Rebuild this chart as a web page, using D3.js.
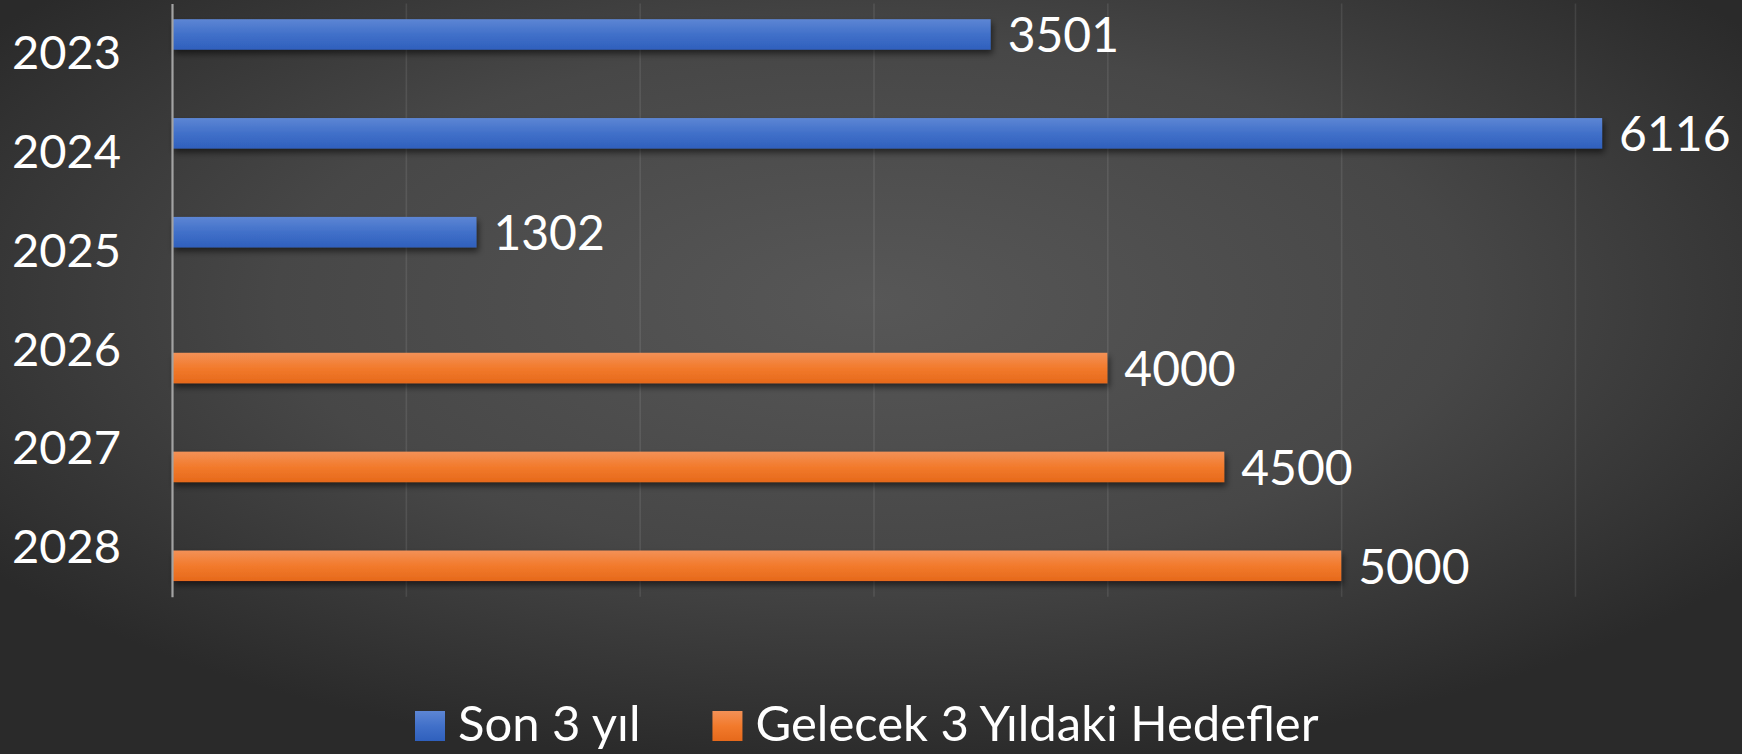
<!DOCTYPE html>
<html>
<head>
<meta charset="utf-8">
<script src="https://cdn.jsdelivr.net/npm/d3@7/dist/d3.min.js"></script>
<style>
  html, body { margin: 0; padding: 0; background: #333; }
  svg { display: block; }
  text { font-family: Lato, "Open Sans", sans-serif; fill: #ffffff; }
</style>
</head>
<body>
<svg id="chart" width="1742" height="754"></svg>
<script>
// ---- data ----
const categories = ["2023", "2024", "2025", "2026", "2027", "2028"];
const seriesNames = ["Son 3 yıl", "Gelecek 3 Yıldaki Hedefler"];
const sonUcYil = [3501, 6116, 1302, null, null, null];
const hedefler = [null, null, null, 4000, 4500, 5000];
const xTicks = [0, 1000, 2000, 3000, 4000, 5000, 6000];

// ---- layout ----
const W = 1742, H = 754;
const plot = { left: 172, right: 1575, top: 3.5, bottom: 596.7 };
const fontSize = 48;
const axisFontSize = 47;
const legendFontSize = 49;

const svg = d3.select("#chart");
const defs = svg.append("defs");

// background radial gradient
const bg = defs.append("radialGradient").attr("id", "bg")
  .attr("cx", "50%").attr("cy", "40%").attr("r", "62%")
  .attr("gradientUnits", "objectBoundingBox");
bg.append("stop").attr("offset", "0%").attr("stop-color", "#575757");
bg.append("stop").attr("offset", "55%").attr("stop-color", "#474747");
bg.append("stop").attr("offset", "100%").attr("stop-color", "#2a2a2a");
svg.append("rect").attr("width", W).attr("height", H).attr("fill", "url(#bg)");

// bar gradients
function barGrad(id, top, mid, bottom) {
  const g = defs.append("linearGradient").attr("id", id)
    .attr("x1", 0).attr("y1", 0).attr("x2", 0).attr("y2", 1);
  g.append("stop").attr("offset", "0%").attr("stop-color", top);
  g.append("stop").attr("offset", "50%").attr("stop-color", mid);
  g.append("stop").attr("offset", "100%").attr("stop-color", bottom);
}
barGrad("gBlue", "#5d86d4", "#4170c9", "#2f60bd");
barGrad("gOrange", "#f39157", "#f27a2c", "#e6691b");

const sh = defs.append("filter").attr("id", "shadow")
  .attr("x", "-5%").attr("y", "-50%").attr("width", "110%").attr("height", "220%");
sh.append("feDropShadow").attr("dx", 2).attr("dy", 4).attr("stdDeviation", 3)
  .attr("flood-color", "#000").attr("flood-opacity", 0.55);

// scales
const x = d3.scaleLinear().domain([0, 6000]).range([plot.left, plot.right]);
const y = d3.scaleBand().domain(categories).range([plot.top, plot.bottom]).padding(0);
const inner = d3.scaleBand().domain(seriesNames).range([0, y.bandwidth()])
  .paddingInner(0.176).paddingOuter(0.424);
const colors = { [seriesNames[0]]: "url(#gBlue)", [seriesNames[1]]: "url(#gOrange)" };

// gridlines
const grid = d3.axisBottom(x).tickValues(xTicks).tickSize(plot.bottom - plot.top).tickFormat("");
const gg = svg.append("g").attr("transform", `translate(0,${plot.top})`).call(grid);
gg.select(".domain").remove();
gg.selectAll(".tick line").attr("stroke", "rgba(255,255,255,0.09)").attr("stroke-width", 1.6);
gg.selectAll(".tick").filter(d => d === 0).remove();

// bars
const rows = [];
categories.forEach((c, i) => {
  if (sonUcYil[i] != null) rows.push({ cat: c, series: seriesNames[0], value: sonUcYil[i] });
  if (hedefler[i] != null) rows.push({ cat: c, series: seriesNames[1], value: hedefler[i] });
});

svg.append("g").selectAll("rect").data(rows).join("rect")
  .attr("x", x(0))
  .attr("y", d => y(d.cat) + inner(d.series))
  .attr("width", d => x(d.value) - x(0))
  .attr("height", inner.bandwidth())
  .attr("fill", d => colors[d.series])
  .attr("filter", "url(#shadow)");

// value labels
svg.append("g").selectAll("text").data(rows).join("text")
  .attr("x", d => x(d.value) + 17)
  .attr("y", d => y(d.cat) + inner(d.series) + inner.bandwidth() / 2 + 18)
  .attr("font-size", fontSize)
  .text(d => d.value);

// category axis
const yAxis = d3.axisLeft(y).tickSize(0).tickPadding(51);
const ya = svg.append("g").attr("transform", `translate(${plot.left},0)`).call(yAxis);
ya.select(".domain").attr("stroke", "#a3a3a3").attr("stroke-width", 2.2);
ya.selectAll(".tick text")
  .attr("font-size", axisFontSize)
  .attr("font-family", "Lato, 'Open Sans', sans-serif")
  .attr("fill", "#fff")
  .attr("dy", null)
  .attr("dominant-baseline", "alphabetic")
  .attr("y", 16);

// legend
const leg = svg.append("g");
const sq = 30, gapSq = 13, gapItem = 72;
const items = leg.selectAll("g").data(seriesNames).join("g");
items.append("rect").attr("width", sq).attr("height", sq).attr("y", 711)
  .attr("fill", d => colors[d]);
items.append("text").attr("x", sq + gapSq).attr("y", 741)
  .attr("font-size", legendFontSize).text(d => d);
const widths = [];
items.each(function () { widths.push(sq + gapSq + d3.select(this).select("text").node().getComputedTextLength()); });
let start = 415;
items.attr("transform", (d, i) => {
  const t = `translate(${start},0)`;
  start += widths[i] + gapItem;
  return t;
});
</script>
</body>
</html>
